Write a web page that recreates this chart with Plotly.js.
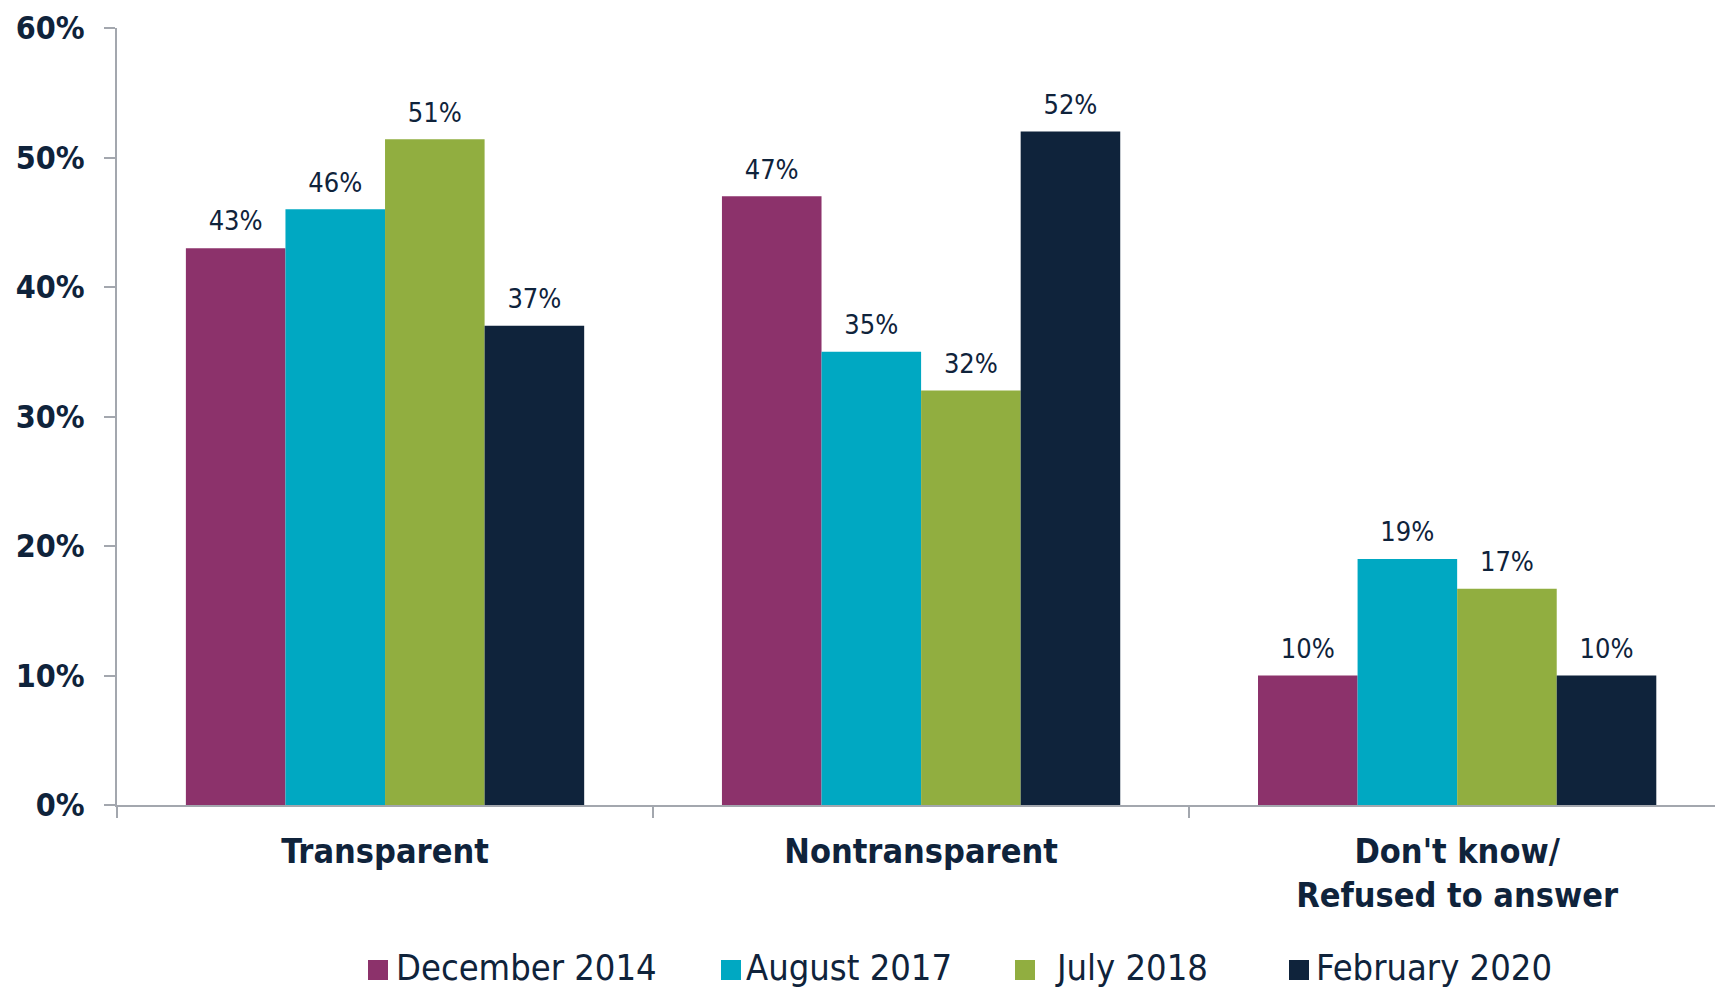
<!DOCTYPE html>
<html>
<head>
<meta charset="utf-8">
<script src="https://cdn.plot.ly/plotly-3.0.1.min.js"></script>
<style>
  html, body { margin: 0; padding: 0; background: #ffffff; }
  #chart { width: 1715px; height: 990px; }
</style>
</head>
<body>
<div id="chart"></div>
<script>
const categories = ["Transparent", "Nontransparent", "Don't know/<br>Refused to answer"];
const seriesNames = ["December 2014", "August 2017", "July 2018", "February 2020"];
const dec2014 = [43, 47, 10];
const aug2017 = [46, 35, 19];
const jul2018 = [51.4, 32, 16.7];
const feb2020 = [37, 52, 10];
const yTickVals = [0, 10, 20, 30, 40, 50, 60];
const yTickText = ["0%", "10%", "20%", "30%", "40%", "50%", "60%"];

const colors = ["#8C326B", "#00A8C2", "#91AE40", "#0F233B"];
const textColor = "#0F233B";
const fontFamily = "'DejaVu Sans Condensed', 'DejaVu Sans', sans-serif";
const allSeries = [dec2014, aug2017, jul2018, feb2020];

const traces = [];
allSeries.forEach((vals, i) => {
  traces.push({
    type: "bar",
    name: seriesNames[i],
    x: categories,
    y: vals,
    offsetgroup: String(i),
    marker: { color: colors[i], line: { width: 0 } },
    hoverinfo: "skip",
    showlegend: false
  });
});
// value labels, grouped like the bars
allSeries.forEach((vals, i) => {
  traces.push({
    type: "scatter",
    mode: "markers+text",
    x: categories,
    y: vals,
    offsetgroup: String(i),
    text: vals.map(v => Math.round(v) + "%"),
    textposition: "top center",
    textfont: { family: fontFamily, size: 27, color: textColor },
    marker: { size: 16, opacity: 0, color: colors[i] },
    cliponaxis: false,
    hoverinfo: "skip",
    showlegend: false
  });
});

// manual legend (paper coordinates derived from pixel layout)
const plotL = 117, plotW = 1598, plotT = 28, plotH = 777;
const px2x = p => (p - plotL) / plotW;
const px2y = p => (plotT + plotH - p) / plotH;
const legendSquareLeft = [368, 721, 1015, 1289];
const legendTextLeft = [394, 744, 1053, 1314];
const legendSq = 20, legendCenterY = 970;
const shapes = [];
const annotations = [];
seriesNames.forEach((n, i) => {
  shapes.push({
    type: "rect", xref: "paper", yref: "paper",
    x0: px2x(legendSquareLeft[i]), x1: px2x(legendSquareLeft[i] + legendSq),
    y0: px2y(legendCenterY + legendSq / 2), y1: px2y(legendCenterY - legendSq / 2),
    fillcolor: colors[i], line: { width: 0 }
  });
  annotations.push({
    xref: "paper", yref: "paper",
    x: px2x(legendTextLeft[i]), y: px2y(legendCenterY - 3),
    xanchor: "left", yanchor: "middle",
    text: n, showarrow: false,
    font: { family: fontFamily, size: 36, color: textColor }
  });
});

const layout = {
  width: 1715,
  height: 990,
  margin: { l: 117, r: 0, t: 28, b: 185 },
  paper_bgcolor: "#ffffff",
  plot_bgcolor: "#ffffff",
  barmode: "group",
  scattermode: "group",
  bargap: 0.257,
  bargroupgap: 0,
  scattergap: 0.257,
  font: { family: fontFamily, color: textColor },
  showlegend: false,
  shapes: shapes,
  annotations: annotations,
  xaxis: {
    type: "category",
    range: [-0.5, 2.481],
    showline: true,
    linecolor: "#A3A7AE",
    linewidth: 2,
    ticks: "outside",
    tickson: "boundaries",
    ticklen: 11,
    tickcolor: "#A3A7AE",
    tickwidth: 2,
    ticklabelstandoff: 15,
    showgrid: false,
    zeroline: false,
    tickfont: { family: fontFamily, size: 34, color: textColor, weight: "bold" }
  },
  yaxis: {
    range: [0, 60],
    tickvals: yTickVals,
    ticktext: yTickText,
    showline: true,
    linecolor: "#A3A7AE",
    linewidth: 2,
    ticks: "outside",
    ticklen: 11,
    tickcolor: "#A3A7AE",
    tickwidth: 2,
    ticklabelstandoff: 13,
    showgrid: false,
    zeroline: false,
    tickfont: { family: fontFamily, size: 32, color: textColor, weight: "bold" }
  }
};

Plotly.newPlot("chart", traces, layout, { displayModeBar: false, staticPlot: true });
</script>
</body>
</html>
